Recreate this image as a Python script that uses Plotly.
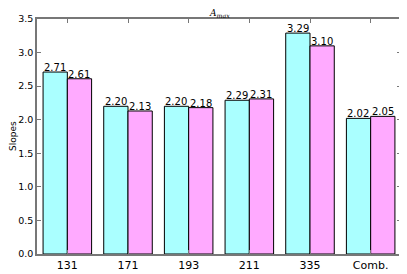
import plotly.graph_objects as go

categories = ["131", "171", "193", "211", "335", "Comb."]
series_a = [2.71, 2.20, 2.20, 2.29, 3.29, 2.02]
series_b = [2.61, 2.13, 2.18, 2.31, 3.10, 2.05]
y_ticks = [0.0, 0.5, 1.0, 1.5, 2.0, 2.5, 3.0, 3.5]

idx = list(range(len(categories)))
W = 0.4

fig = go.Figure()
fig.add_trace(go.Bar(x=[i - W / 2 for i in idx], y=series_a, width=W,
                     marker=dict(color="#aaffff", line=dict(color="black", width=1))))
fig.add_trace(go.Bar(x=[i + W / 2 for i in idx], y=series_b, width=W,
                     marker=dict(color="#ffaaff", line=dict(color="black", width=1))))

for i in idx:
    for off, v in ((-W, series_a[i]), (0.0, series_b[i])):
        fig.add_annotation(x=i + off, y=v, text=f"{v:.2f}", showarrow=False,
                           xanchor="left", yanchor="bottom", borderpad=0, yshift=-2,
                           font=dict(size=10, color="black"))

fig.add_annotation(x=-0.0673, y=0.5, xref="paper", yref="paper", text="Slopes",
                   textangle=-90, showarrow=False, xanchor="center", yanchor="middle",
                   borderpad=0, font=dict(size=9, color="black"))
fig.add_annotation(x=0.5, y=1, xref="paper", yref="paper",
                   text="<i>A</i><sub><i>max</i></sub>", showarrow=False,
                   xanchor="center", yanchor="bottom", borderpad=0, yshift=-1,
                   font=dict(size=9, family="DejaVu Serif", color="black"))

axis_common = dict(showline=True, linecolor="#777777", linewidth=1.5, mirror="ticks",
                   ticks="inside", ticklen=4, tickcolor="#777777", showgrid=False,
                   zeroline=False, automargin=False)

fig.update_layout(
    width=399, height=266,
    margin=dict(l=29, r=6, t=11, b=20),
    paper_bgcolor="white", plot_bgcolor="white",
    showlegend=False, barmode="overlay",
    font=dict(family="DejaVu Sans", color="black"),
    xaxis=dict(range=[-0.5, 5.5], tickmode="array", tickvals=idx, ticktext=categories,
               tickfont=dict(size=11), **axis_common),
    yaxis=dict(range=[0, 3.5], tickmode="array", tickvals=y_ticks,
               ticktext=[f"{t:.1f}" for t in y_ticks], tickfont=dict(size=9.5),
               **axis_common),
)

fig.write_html("out.html")
